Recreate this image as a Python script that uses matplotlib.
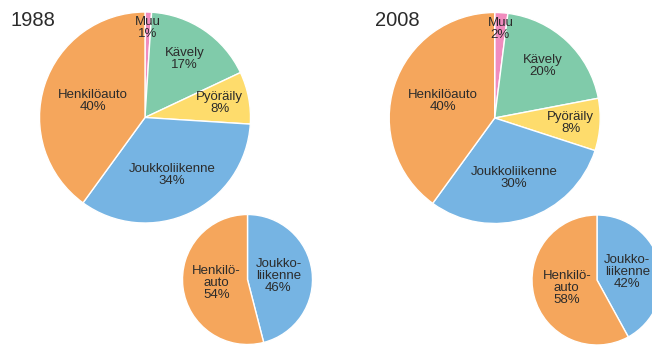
import numpy as np
import matplotlib.pyplot as plt

plt.rcParams['font.family'] = ['Liberation Sans', 'DejaVu Sans']

# modal split, clockwise from 12 o'clock
modes = ['Muu', 'Kävely', 'Pyöräily', 'Joukkoliikenne', 'Henkilöauto']
share_1988 = [1, 17, 8, 34, 40]
share_2008 = [2, 20, 8, 30, 40]

# motorised trips only
motor_modes = ['Joukko-\nliikenne', 'Henkilö-\nauto']
motor_1988 = [46, 54]
motor_2008 = [42, 58]

years = ['1988', '2008']

mode_colors = ['#F08CBE', '#80CBAA', '#FEDC6C', '#76B4E3', '#F5A65C']
motor_colors = ['#76B4E3', '#F5A65C']
label_r = [0.85, 0.67, 0.72, 0.60, 0.52]
text_color = '#2b2b2b'

W, H = 652, 345
fig = plt.figure(figsize=(W / 100, H / 100), dpi=100)
ax = fig.add_axes([0, 0, 1, 1])


def draw_pie(values, labels, colors, cx, cy, radius, rfac):
    # cy is measured from the top edge
    cy = H - cy
    ax.pie(values, colors=colors, startangle=90, counterclock=False,
           center=(cx, cy), radius=radius,
           wedgeprops=dict(edgecolor='white', linewidth=1.0))
    total = float(sum(values))
    start = 0.0
    for i, (v, lab) in enumerate(zip(values, labels)):
        mid = np.radians((start + v / 2) / total * 360)
        start += v
        r = radius * rfac[i]
        x = cx + r * np.sin(mid)
        y = cy + r * np.cos(mid)
        ax.text(x, y, '%s\n%d%%' % (lab, v), ha='center', va='center',
                fontsize=9.5, color=text_color, linespacing=1.0)


draw_pie(share_1988, modes, mode_colors, 145, 117.5, 105.5, label_r)
draw_pie(share_2008, modes, mode_colors, 494.7, 118, 105.5, label_r)
draw_pie(motor_1988, motor_modes, motor_colors, 247.5, 279.5, 65, [0.48, 0.48])
draw_pie(motor_2008, motor_modes, motor_colors, 597, 280, 65, [0.48, 0.48])

ax.text(10, H - 20, years[0], fontsize=14.5, color=text_color, va='center', ha='left')
ax.text(375, H - 20, years[1], fontsize=14.5, color=text_color, va='center', ha='left')

ax.set_xlim(0, W)
ax.set_ylim(0, H)
ax.set_aspect('equal')
ax.axis('off')

fig.savefig('out.png', dpi=100)
